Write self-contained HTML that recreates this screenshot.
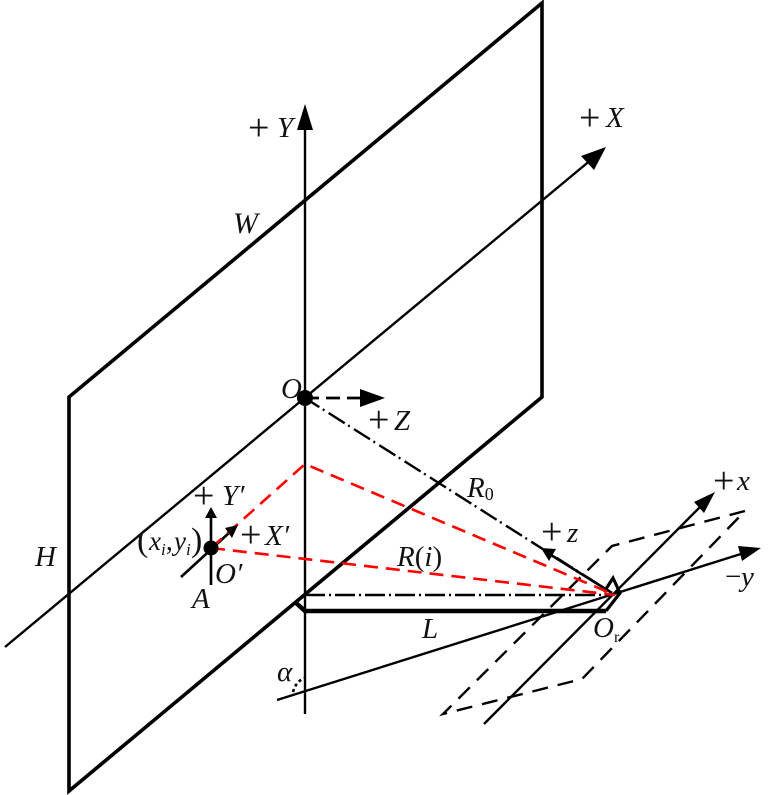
<!DOCTYPE html>
<html><head><meta charset="utf-8"><style>
html,body{margin:0;padding:0;background:#fff;width:768px;height:795px;overflow:hidden}
svg{display:block}
text{font-family:"Liberation Serif",serif;font-size:29px;fill:#111}
.i{font-style:italic}
.p{font-size:38px}
.s{font-size:17px;font-style:italic}
.b{font-size:34px}
</style></head><body>
<svg width="768" height="795" viewBox="0 0 768 795" xmlns="http://www.w3.org/2000/svg">
<g fill="none" stroke="#000">
<path d="M69 397L542 3V397L69 791Z" stroke-width="3.6"/>
<path d="M305 714V125M5 647L592 159" stroke-width="2.4"/>
<path d="M305 398H362" stroke-width="2.8" stroke-dasharray="14 7"/>
<path d="M305 398L612 593" stroke-width="2.4" stroke-dasharray="19 4 2 5" stroke-dashoffset="2"/>
<path d="M305 595H610" stroke-width="2.4" stroke-dasharray="20 4 2 4"/>
<path d="M295 602L305 611H606" stroke-width="4.5"/>
<path d="M606 611L620 593L613 578L604 592" stroke-width="3.2"/>
<path d="M612 593L551 555" stroke-width="2.6"/>
<path d="M484 724L702 505" stroke-width="2.4"/>
<path d="M277 700L744 553" stroke-width="2.4"/>
<path d="M745 511L612 546L443 714L582 679Z" stroke-width="2.4" stroke-dasharray="16 10"/>
<path d="M211 585V516M181 577L230 532" stroke-width="2.6"/>
<path d="M293 692Q296 681 305 678" stroke-width="2.6" stroke-dasharray="3 3"/>
<path d="M211 548L305 464L615 595M211 548L615 595" stroke="#f00" stroke-width="2.6" stroke-dasharray="14 8"/>
</g>
<g fill="#000">
<path d="M305 104L313 130H297Z"/>
<path d="M606 147L594 170L581 156Z"/>
<path d="M385 398L360 389V407Z"/>
<path d="M541 548L556 549L549 561Z"/>
<path d="M715 492L704 513L694 502Z"/>
<path d="M761 548L742 561L738 546Z"/>
<path d="M211 507L217 518H205Z"/>
<path d="M238 525L232 538L225 528Z"/>
<circle cx="305" cy="398" r="8"/>
<circle cx="211" cy="548" r="7.5"/>
</g>
<text x="248" y="140" class="p">+</text><text x="277" y="137" class="i">Y</text>
<text x="579" y="130" class="p">+</text><text x="606" y="127" class="i">X</text>
<text x="233" y="233" class="i" style="font-size:30px">W</text>
<text x="281" y="398" class="i">O</text>
<text x="368" y="432" class="p">+</text><text x="394" y="430" class="i">Z</text>
<text x="35" y="566" class="i">H</text>
<text x="467" y="497" class="i">R<tspan font-style="normal" style="font-size:18px" dy="3">0</tspan></text>
<text x="541" y="544" class="p">+</text><text x="567" y="542" class="i">z</text>
<text x="713" y="493" class="p">+</text><text x="737" y="490" class="i">x</text>
<text x="725" y="586">−</text><text x="741" y="586" class="i">y</text>
<text x="397" y="566"><tspan class="i">R</tspan>(<tspan class="i">i</tspan>)</text>
<text x="422" y="638" class="i">L</text>
<text x="593" y="637" class="i">O<tspan font-style="normal" style="font-size:16px" dy="5">r</tspan></text>
<text x="277" y="681" class="i">α</text>
<text x="193" y="508" class="p">+</text><text x="222" y="505" class="i">Y′</text>
<text x="240" y="547" class="p">+</text><text x="265" y="545" class="i">X′</text>
<text x="137" y="551" class="b">(</text><text x="149" y="550" class="i" style="font-size:27px">x</text><text x="161" y="555" class="s">i</text><text x="166" y="550" style="font-size:27px">,</text><text x="174" y="550" class="i" style="font-size:27px">y</text><text x="186" y="555" class="s">i</text><text x="191" y="551" class="b">)</text>
<text x="215" y="583" class="i">O′</text>
<text x="192" y="608" class="i">A</text>
</svg>
</body></html>
